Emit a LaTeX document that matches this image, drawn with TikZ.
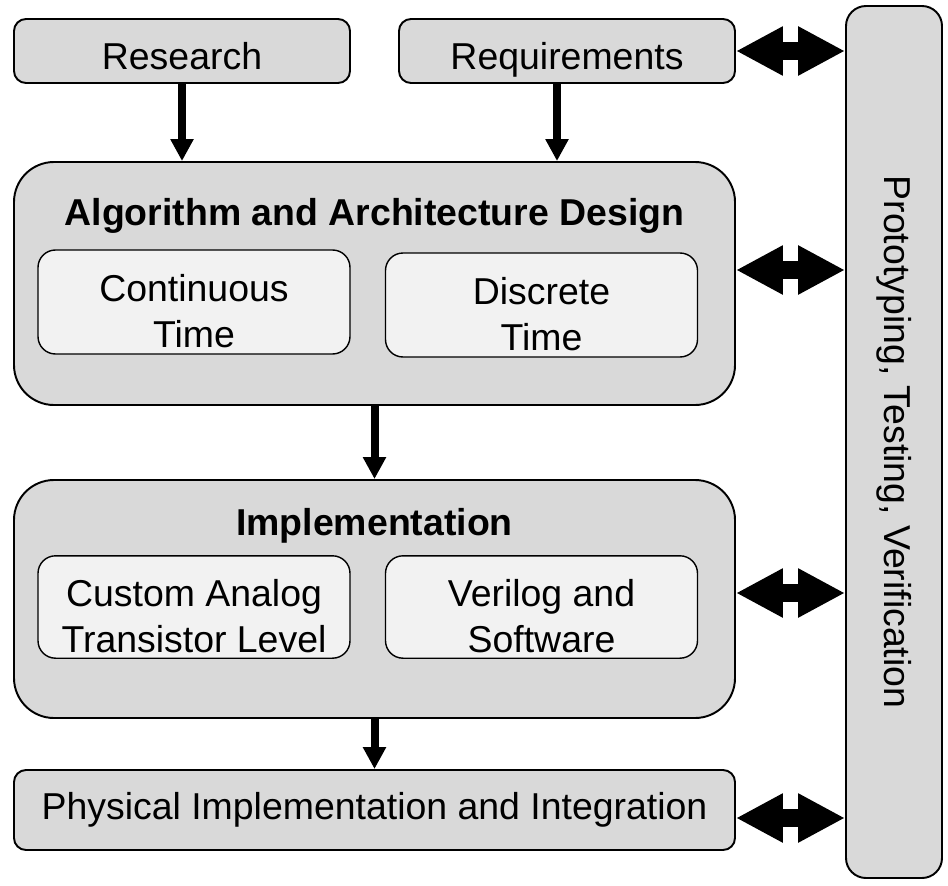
\documentclass[tikz,border=0pt]{standalone}
\usepackage{fontspec}
\setmainfont{Liberation Sans}
\usetikzlibrary{arrows.meta}
% text sits a little low in its box
\newcommand{\dn}[2][0.18cm]{\raisebox{-#1}[\height][\depth]{\begin{tabular}{@{}c@{}}#2\end{tabular}}}

\begin{document}
\begin{tikzpicture}[
    font=\fontsize{21.3}{25.8}\selectfont,
    box/.style = {draw, line width=1.1pt, fill=black!15, rounded corners=0.24cm},
    big/.style = {box, rounded corners=0.8cm, minimum width=14.42cm},
    sub/.style = {draw, line width=0.8pt, fill=black!5, rounded corners=0.35cm,
                  minimum width=6.24cm, align=center},
    head/.style = {font=\fontsize{21.3}{25.8}\selectfont\bfseries},
    down/.style = {line width=0.16cm, -{Triangle[length=0.44cm, width=0.44cm]}},
    both/.style = {line width=0.36cm,
                   {Triangle[length=0.94cm, width=0.92cm]}-{Triangle[length=0.94cm, width=0.92cm]}}]
    \useasboundingbox (0,0) rectangle (18.96,-17.72);
    % top row
    \node[box, minimum width=6.72cm, minimum height=1.28cm] (res) at (3.64,-1.02) {\dn{Research}};
    \node[box, minimum width=6.72cm, minimum height=1.28cm] (req) at (11.34,-1.02) {\dn{Requirements}};
    % algorithm block
    \node[big, minimum height=4.86cm] (alg) at (7.49,-5.67) {};
    \node[head] (algt) at (7.49,-4.31) {Algorithm and Architecture Design};
    \node[sub, minimum height=2.08cm] (ct) at (3.88,-6.04) {\dn[0.27cm]{Continuous\\Time}};
    \node[sub, minimum height=2.08cm] (dt) at (10.83,-6.10) {\dn[0.27cm]{Discrete\\Time}};
    % implementation block
    \node[big, minimum height=4.76cm] (imp) at (7.49,-11.98) {};
    \node[head] (impt) at (7.49,-10.52) {Implementation};
    \node[sub, minimum height=2.0cm] (ana) at (3.88,-12.14) {\dn[0.27cm]{Custom Analog\\Transistor Level}};
    \node[sub, minimum height=2.0cm] (ver) at (10.83,-12.14) {\dn[0.27cm]{Verilog and\\Software}};
    % bottom
    \node[box, minimum width=14.42cm, minimum height=1.6cm] (phy) at (7.49,-16.2) {Physical Implementation and Integration};
    % side bar
    \node[box, rounded corners=0.4cm, rotate=-90, minimum width=17.44cm, minimum height=1.92cm] (pro) at (17.88,-8.84) {Prototyping, Testing, Verification};

    \coordinate (reqs) at ([xshift=-0.2cm]req.south);
    \draw[down] (res.south) -- (alg.north -| res.south);
    \draw[down] (reqs) -- (alg.north -| reqs);
    \draw[down] (alg.south) -- (imp.north);
    \draw[down] (imp.south) -- (phy.north);

    \draw[both] (req.east) -- (req.east -| pro.south);
    \draw[both] ([yshift=0.27cm]alg.east) -- ([yshift=0.27cm]alg.east -| pro.south);
    \draw[both] ([yshift=0.12cm]imp.east) -- ([yshift=0.12cm]imp.east -| pro.south);
    \draw[both] ([yshift=-0.16cm]phy.east) -- ([yshift=-0.16cm]phy.east -| pro.south);
\end{tikzpicture}
\end{document}
